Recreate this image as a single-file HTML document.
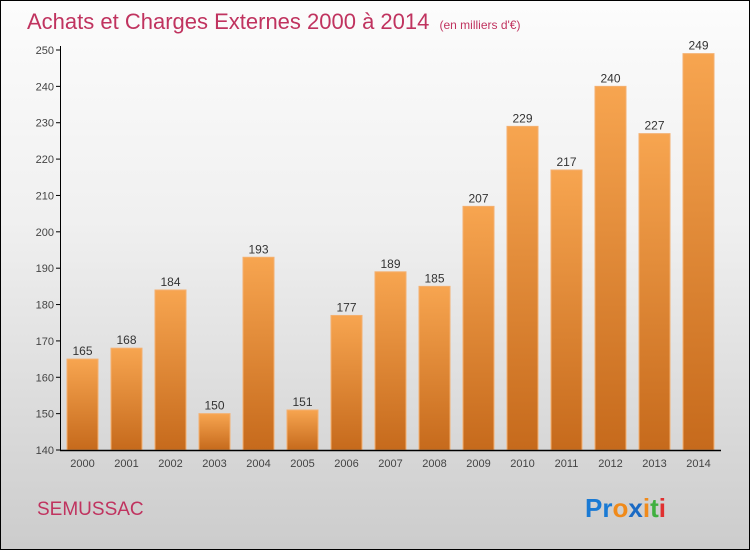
<!DOCTYPE html>
<html><head><meta charset="utf-8"><style>
html,body{margin:0;padding:0}
body{width:750px;height:550px;overflow:hidden;font-family:"Liberation Sans",sans-serif}
#wrap{position:relative;width:748px;height:548px;border:1px solid #000;background:linear-gradient(#fcfcfc,#f0f0f0 40%,#cccccc)}
</style></head><body>
<div id="wrap">
<svg width="748" height="548" id="svg">
<defs>
<linearGradient id="bg" x1="0" y1="0" x2="0" y2="1"><stop offset="0" stop-color="#f7a550"/><stop offset="1" stop-color="#c66a1c"/></linearGradient>
</defs>
<text x="26" y="28" font-size="22" fill="#c0335f" font-weight="normal">Achats et Charges Externes 2000 à 2014 <tspan font-size="12" dx="4">(en milliers d'€)</tspan></text>
<text x="36" y="514" font-size="19" fill="#c0335f">SEMUSSAC</text>
<text x="584" y="516" font-size="26" font-weight="bold"><tspan fill="#1a7ad4">Pr</tspan><tspan fill="#f08a1a">o</tspan><tspan fill="#1a6ac4">x</tspan><tspan fill="#f08a1a">i</tspan><tspan fill="#40b040">t</tspan><tspan fill="#e03030">i</tspan></text>
<g id="plot"></g>
</svg>
</div>
<script>
const years=["2000","2001","2002","2003","2004","2005","2006","2007","2008","2009","2010","2011","2012","2013","2014"];
const values=[165,168,184,150,193,151,177,189,185,207,229,217,240,227,249];
const ticks=[140,150,160,170,180,190,200,210,220,230,240,250];
const NS="http://www.w3.org/2000/svg";
const g=document.getElementById('plot');
const y=v=>449-(v-140)*(400/110);
const x=i=>81.5+i*44;
function mk(t,a){const e=document.createElementNS(NS,t);for(const k in a)e.setAttribute(k,a[k]);g.appendChild(e);return e;}
ticks.forEach(t=>{
 const l=mk('line',{x1:55,x2:60,y1:y(t),y2:y(t),stroke:'#000'});
 
 
 const tx=mk('text',{x:53,y:y(t)+4,'text-anchor':'end','font-size':11,fill:'#444'});
 tx.textContent=t;
 
 
});
values.forEach((v,i)=>{
 const r=mk('rect',{x:x(i)-15.5,y:y(v),width:31,height:y(140)-y(v),fill:'url(#bg)',stroke:'#f4b070','stroke-width':1});
 
 
 const vt=mk('text',{x:x(i),y:y(v)-4,'text-anchor':'middle','font-size':12,fill:'#333'});
 vt.textContent=v;
 
 
 const xt=mk('text',{x:x(i),y:466,'text-anchor':'middle','font-size':11,fill:'#444'});
 xt.textContent=years[i];
 
 
});
const ya=mk('line',{x1:59.5,x2:59.5,y1:y(250)-4,y2:449,stroke:'#000'});


const xa=mk('line',{x1:59,x2:720,y1:449.5,y2:449.5,stroke:'#000','stroke-width':1.5});


</script>
</body></html>
